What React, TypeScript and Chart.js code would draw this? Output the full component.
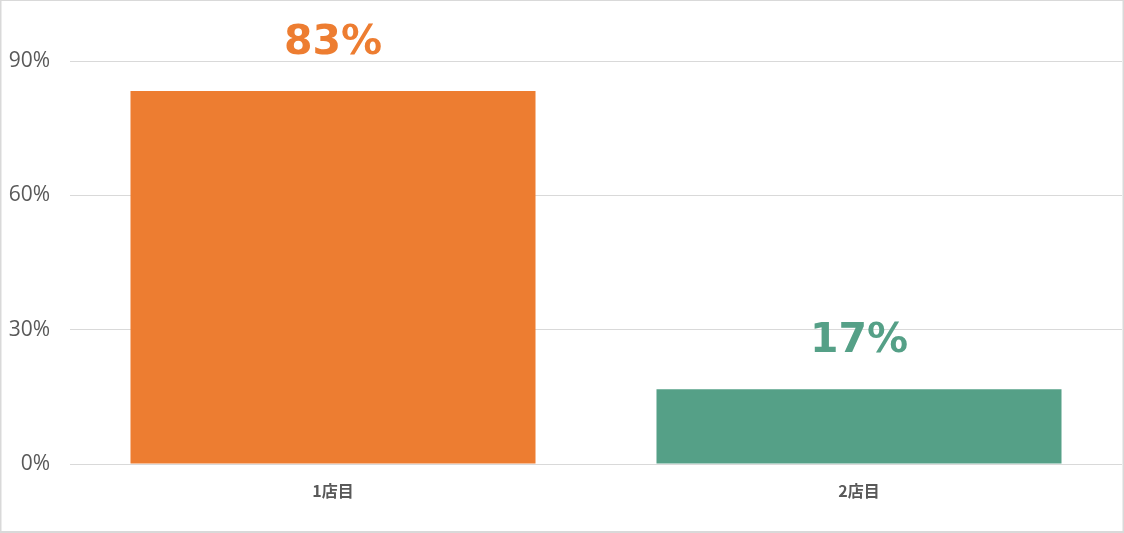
import React, { useEffect, useRef } from "react";
import { Chart, registerables } from "chart.js";

Chart.register(...registerables);

const categories = ["1店目", "2店目"];
const values = [83.3, 16.7];
const valueLabels = ["83%", "17%"];
const barColors = ["#ED7D31", "#55A087"];
const yTicks = [0, 30, 60, 90];

const framePlugin = {
  id: "frame",
  afterDraw(chart: any) {
    const { ctx, width, height } = chart;
    ctx.save();
    ctx.strokeStyle = "#d9d9d9";
    ctx.lineWidth = 2;
    ctx.strokeRect(0.5, 0, width - 1, height - 1);
    ctx.restore();
  },
};

const valueLabelPlugin = {
  id: "valueLabels",
  afterDatasetsDraw(chart: any) {
    const { ctx } = chart;
    const meta = chart.getDatasetMeta(0);
    ctx.save();
    ctx.font = "bold 41px 'DejaVu Sans'";
    ctx.textAlign = "center";
    ctx.textBaseline = "middle";
    meta.data.forEach((bar: any, i: number) => {
      ctx.fillStyle = barColors[i];
      ctx.fillText(valueLabels[i], bar.x, bar.y - 48);
    });
    ctx.restore();
  },
};

export default function App() {
  const ref = useRef<HTMLCanvasElement>(null);
  useEffect(() => {
    if (!ref.current) return;
    const chart = new Chart(ref.current, {
      type: "bar",
      data: {
        labels: categories,
        datasets: [
          {
            data: values,
            backgroundColor: barColors,
            barPercentage: 0.77,
            categoryPercentage: 1,
          },
        ],
      },
      options: {
        animation: false,
        responsive: false,
        maintainAspectRatio: false,
        layout: { padding: { top: 61, right: 2, bottom: 0, left: 0 } },
        plugins: { legend: { display: false }, tooltip: { enabled: false } },
        scales: {
          x: {
            grid: { display: false },
            border: { display: false },
            ticks: {
              color: "#595959",
              padding: 9,
              font: { family: "'Noto Sans CJK JP'", size: 16, weight: "bold" },
            },
            afterFit(scale: any) {
              scale.height = 69;
            },
          },
          y: {
            min: 0,
            max: 90,
            afterBuildTicks(scale: any) {
              scale.ticks = yTicks.map((v) => ({ value: v }));
            },
            grid: { color: "#d9d9d9", drawTicks: false, lineWidth: 1 },
            border: { display: false },
            ticks: {
              color: "#595959",
              padding: 20,
              font: { family: "'Open Sans'", size: 21 },
              callback: (v: any) => v + "%",
            },
            afterFit(scale: any) {
              scale.width = 70;
            },
          },
        },
      },
      plugins: [framePlugin, valueLabelPlugin],
    });
    return () => chart.destroy();
  }, []);
  return (
    <div style={{ position: "fixed", left: 0, top: 0, width: 1124, height: 533, background: "#fff" }}>
      <canvas ref={ref} width={1124} height={533} />
    </div>
  );
}
